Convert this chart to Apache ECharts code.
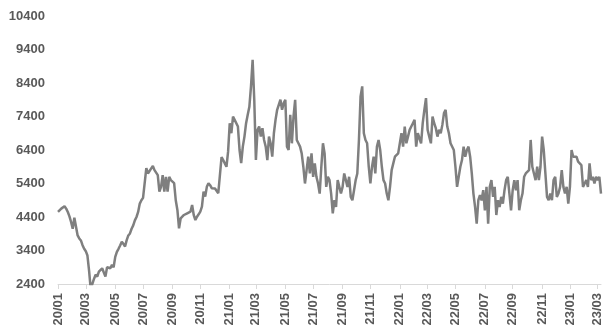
<!DOCTYPE html>
<html><head><meta charset="utf-8">
<script src="https://cdn.jsdelivr.net/npm/echarts@6/dist/echarts.min.js"></script>
<style>html,body{margin:0;padding:0;background:#fff}#c{width:606px;height:335px}</style>
</head><body><div id="c"></div>
<script>
// twice-weekly observations (Thu / Mon) starting 2020-01-02
const startDate = '2020-01-02';
const values = [
4550,4500,4650,4600,4720,4650,4550,4420,4250,4050,
4380,4350,3850,3760,3700,3560,3450,3380,3250,2800,
2250,2300,2550,2680,2620,2770,2800,2870,2900,2620,
2900,2850,2870,2970,2900,3210,3360,3450,3550,3660,
3600,3520,3710,3850,3910,4050,4150,4300,4400,4550,
4800,4900,4970,5010,5860,5700,5750,5850,5920,5800,
5750,5650,5160,5300,5650,5160,5600,5160,5600,5500,
5550,5410,4900,4610,4060,4360,4410,4460,4480,4510,
4540,4560,4760,4460,4310,4410,4480,4560,4710,5160,
5010,5300,5410,5350,5260,5300,5250,5200,5110,5150,
6190,6100,6000,5900,6350,7200,6900,7400,7300,7250,
7100,6400,6010,6500,6800,7200,7450,7690,8300,9090,
7900,6100,7000,7100,6800,7050,6700,6500,6100,6800,
6600,6200,6900,7300,7600,7650,7900,7600,7800,7900,
6500,6400,7450,6600,7400,7900,6700,6600,6500,6300,
5900,5400,5800,6200,5700,6300,5600,6000,5600,5400,
5100,5900,6600,6300,5300,5600,5500,5100,4510,4900,
4700,5500,5300,5100,5300,5700,5500,5300,5600,5000,
4900,5200,5500,5700,6700,8000,8300,6900,6700,6600,
5900,5400,5900,6200,5700,6500,6700,6400,5900,5500,
5400,5100,4900,5300,5800,6000,6200,6250,6300,6350,
6900,6500,7100,6600,6800,7000,7100,7200,7300,6500,
6900,6850,6600,7200,7600,7950,7000,6800,6600,7400,
7200,7050,6800,7000,6900,7150,7500,7600,7100,6900,
6600,6650,6400,5900,5300,5600,5900,6100,6500,6200,
6400,6500,6200,5700,5100,4700,4200,4900,5050,4900,
5200,4600,5300,4200,5300,5500,5000,5300,4460,4900,
4700,5000,4800,5200,5500,5600,5100,4600,5200,5500,
5200,5500,4600,4900,5100,5600,5700,5750,5800,6700,
5900,5700,5500,5900,5500,5900,6800,6400,5700,5000,
4900,5100,4900,5500,5600,5000,5100,5300,5800,5300,
5100,5300,4800,5300,6400,6200,6250,6200,6050,6100,
5950,5300,5400,5500,5300,6000,5500,5600,5400,5600,
5500,5600,5100
];
const tickLabels = ['20/01','20/03','20/05','20/07','20/09','20/11','21/01','21/03','21/05','21/07','21/09','21/11','22/01','22/03','22/05','22/07','22/09','22/11','23/01','23/03'];
const yMin = 2400, yMax = 10400, yStep = 1000;

// categories: Thursday and following Monday of each week
const categories = [];
{
  const d0 = new Date(startDate + 'T00:00:00Z');
  for (let i = 0; i < values.length; i++) {
    const days = Math.floor(i / 2) * 7 + (i % 2 ? 4 : 0);
    const d = new Date(d0.getTime() + days * 86400000);
    categories.push(d.toISOString().slice(0, 10));
  }
}
function labelOf(c){ return c.slice(2,4) + '/' + c.slice(5,7); }
const shownIdx = new Set();
{
  const seen = new Set();
  categories.forEach((c, i) => {
    const l = labelOf(c);
    if (!seen.has(l)) { seen.add(l); if (tickLabels.includes(l)) shownIdx.add(i); }
  });
}
const showFn = (i) => shownIdx.has(i);

const chart = echarts.init(document.getElementById('c'), null, {renderer:'canvas'});
chart.setOption({
  animation: false,
  grid: {left: 58, right: 5, top: 16, bottom: 51, containLabel: false},
  xAxis: {
    type: 'category', data: categories, boundaryGap: false,
    axisLine: {show: true, lineStyle: {color: '#d9d9d9', width: 1}},
    axisTick: {show: true, interval: showFn, length: 5, lineStyle: {color: '#d9d9d9'}},
    axisLabel: {interval: showFn, rotate: 90, margin: 9, formatter: labelOf,
      color: '#595959', fontFamily: 'Liberation Sans', fontWeight: 'bold', fontSize: 13},
    splitLine: {show: false}
  },
  yAxis: {
    type: 'value', min: yMin, max: yMax, interval: yStep,
    axisLine: {show: false}, axisTick: {show: false}, splitLine: {show: false},
    axisLabel: {formatter: (v) => String(v), color: '#595959', fontFamily: 'Liberation Sans',
      fontWeight: 'bold', fontSize: 13, margin: 13}
  },
  series: [{
    type: 'line', data: values, showSymbol: false, symbol: 'none', clip: true,
    lineStyle: {color: '#7f7f7f', width: 2.5}
  }]
});
</script></body></html>
